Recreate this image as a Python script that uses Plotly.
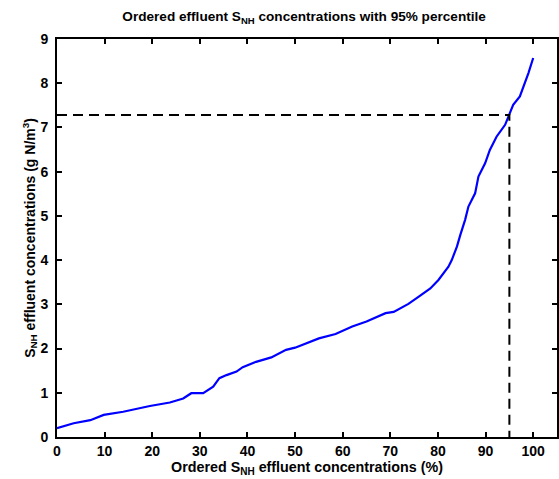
import numpy as np
import plotly.graph_objects as go

# Ordered effluent ammonia concentrations (percent of time vs. g N/m3)
pct = [0, 3.5, 7, 9.8, 13.9, 19.5, 23.7, 26.5, 28.2, 30.7, 32.8, 34.1, 35.6,
       37.7, 39.0, 41.8, 45, 48.1, 50, 55.0, 58.5, 62.0, 65, 69.0, 70.7, 71.8,
       73.8, 75.9, 78.4, 80.1, 82.2, 82.9, 84.0, 84.7, 85.7, 86.4, 87.8, 88.5,
       89.9, 90.9, 92.3, 94.1, 95.0, 95.8, 97.2, 98.3, 99.0, 100]
snh = [0.20, 0.31, 0.38, 0.50, 0.57, 0.70, 0.78, 0.87, 0.99, 0.99, 1.14, 1.33,
       1.40, 1.48, 1.58, 1.70, 1.80, 1.97, 2.02, 2.23, 2.33, 2.50, 2.61, 2.80,
       2.83, 2.90, 3.01, 3.17, 3.36, 3.55, 3.85, 4.00, 4.31, 4.57, 4.91, 5.21,
       5.51, 5.89, 6.19, 6.49, 6.79, 7.06, 7.28, 7.51, 7.70, 8.00, 8.23, 8.57]

percentile = 95
x_ticks = list(range(0, 101, 10))
y_ticks = list(range(0, 10))

p_val = float(np.interp(percentile, pct, snh))

FONT = "Liberation Sans, Arial, Helvetica, sans-serif"

fig = go.Figure()
fig.add_trace(go.Scatter(x=pct, y=snh, mode="lines",
                         line=dict(color="#0000ff", width=2.2),
                         showlegend=False, hoverinfo="skip"))
# percentile guide lines
fig.add_trace(go.Scatter(x=[0, percentile, percentile], y=[p_val, p_val, 0],
                         mode="lines",
                         line=dict(color="black", width=2, dash="10px,6px"),
                         showlegend=False, hoverinfo="skip"))

axis_common = dict(showgrid=False, zeroline=False, showline=True,
                   linecolor="black", linewidth=2, mirror="ticks",
                   ticks="inside", ticklen=5, tickwidth=2, tickcolor="black",
                   tickfont=dict(family=FONT, size=14, color="black", weight="bold"))

fig.update_xaxes(range=[0, 105], tickvals=x_ticks, ticklabelstandoff=0,
                 title=dict(text="Ordered S<sub>NH</sub> effluent concentrations (%)",
                            font=dict(family=FONT, size=14.3, color="black", weight="bold"),
                            standoff=0),
                 **axis_common)
fig.update_yaxes(range=[0, 9], tickvals=y_ticks, ticklabelstandoff=4,
                 title=dict(text="S<sub>NH</sub> effluent concentrations (g N/m<sup>3</sup>)",
                            font=dict(family=FONT, size=14, color="black", weight="bold"),
                            standoff=2),
                 **axis_common)

fig.update_layout(
    width=559, height=479,
    margin=dict(l=57, r=0, t=39, b=42),
    paper_bgcolor="white", plot_bgcolor="white",
    title=dict(text="Ordered effluent S<sub>NH</sub> concentrations with 95% percentile",
               font=dict(family=FONT, size=13.6, color="black", weight="bold"),
               x=0.544, xanchor="center", y=0.975, yanchor="top"),
)

fig.write_html("out.html")
